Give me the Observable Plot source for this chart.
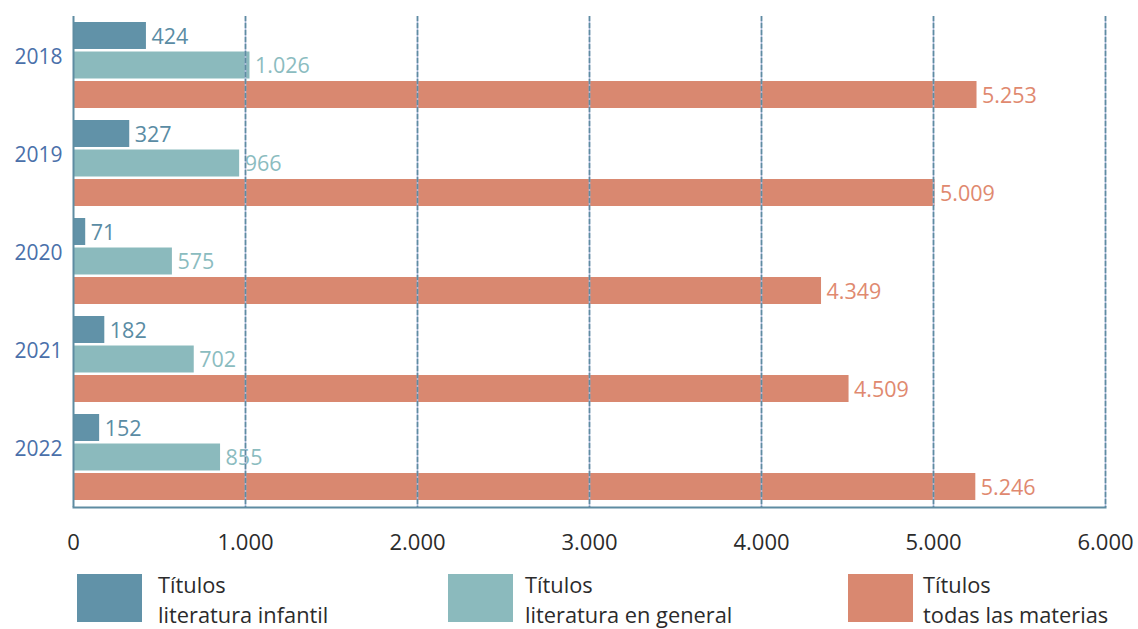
<!DOCTYPE html>
<html>
<head>
<meta charset="utf-8">
<script src="https://cdn.jsdelivr.net/npm/d3@7"></script>
<script src="https://cdn.jsdelivr.net/npm/@observablehq/plot@0.6"></script>
<style>
  html, body { margin: 0; padding: 0; background: #fff; }
  #wrap { position: relative; width: 1138px; height: 629px; font-family: "Open Sans", sans-serif; }
  .leg { position: absolute; top: 574px; }
  .sw { position: absolute; top: 0; width: 65px; height: 48px; }
  .lt { position: absolute; top: -4px; font-size: 21.8px; line-height: 30px; color: #2b2b2b; white-space: nowrap; }
</style>
</head>
<body>
<div id="wrap"><div id="chart"></div><div id="legend"></div></div>
<script>
const years = ["2018", "2019", "2020", "2021", "2022"];
const infantil = [424, 327, 71, 182, 152];
const general = [1026, 966, 575, 702, 855];
const todas = [5253, 5009, 4349, 4509, 5246];
const xTicks = [0, 1000, 2000, 3000, 4000, 5000, 6000];
const seriesNames = ["Títulos\nliteratura infantil", "Títulos\nliteratura en general", "Títulos\ntodas las materias"];
const colors = ["#6192a8", "#8bbabd", "#d98870"];
const labelColors = ["#5a8ca4", "#8bbcbf", "#e0896f"];

const fmt = d3.formatLocale({decimal: ",", thousands: ".", grouping: [3], currency: ["", ""]}).format(",");

const rows = (vals) => years.map((y, i) => ({year: y, value: vals[i]}));
const series = [rows(infantil), rows(general), rows(todas)];

// band geometry (styles)
const W = 1138, H = 560, mT = 16, mB = 53, mL = 73, mR = 33;
const pInner = 0.12, pOuter = 0.06;
const step = (H - mT - mB) / (years.length - pInner + 2 * pOuter);
const bw = step * (1 - pInner);
const barH = 27.4, sub = (bw - barH) / 2;
const insets = [[0, bw - barH], [sub, sub], [bw - barH, 0]];
const dys = [-sub, 0, sub];

const marks = [];
series.forEach((data, k) => {
  marks.push(Plot.barX(data, {x: "value", y: "year", fill: colors[k], insetTop: insets[k][0], insetBottom: insets[k][1]}));
  marks.push(Plot.text(data, {x: "value", y: "year", text: d => fmt(d.value), textAnchor: "start", dx: 5, dy: dys[k] + 1, fill: labelColors[k], fontSize: 21.5}));
});

const chart = Plot.plot({
  width: W, height: H,
  marginTop: mT, marginBottom: mB, marginLeft: mL, marginRight: mR,
  style: {fontFamily: "Open Sans, sans-serif", background: "#fff"},
  x: {domain: [0, 6000], label: null},
  y: {domain: years, paddingInner: pInner, paddingOuter: pOuter, label: null},
  marks: [
    ...marks,
    Plot.ruleX(xTicks.slice(1), {x: d => d, stroke: "#a9b7d8", strokeWidth: 1.6}),
    Plot.ruleX(xTicks.slice(1), {x: d => d, stroke: "#5e8ca2", strokeWidth: 1.6, strokeDasharray: "5,2"}),
    Plot.ruleX([0], {x: d => d, stroke: "#5e8ca2", strokeWidth: 2}),
    Plot.frame({anchor: "bottom", stroke: "#5e8ca2", strokeWidth: 2}),
    Plot.axisX({ticks: xTicks, tickFormat: fmt, tickSize: 0, tickPadding: 27, fontSize: 22, fill: "#2b2b2b", label: null}),
    Plot.axisY({tickSize: 0, tickPadding: 11, fontSize: 21, fill: "#4a70aa", dy: -8, label: null})
  ]
});
document.getElementById("chart").appendChild(chart);

const legX = [[77, 158], [448, 525], [848, 923]];
const leg = document.getElementById("legend");
seriesNames.forEach((name, k) => {
  const item = document.createElement("div");
  item.className = "leg";
  item.style.left = "0px";
  const sw = document.createElement("div");
  sw.className = "sw"; sw.style.left = legX[k][0] + "px"; sw.style.background = colors[k];
  const t = document.createElement("div");
  t.className = "lt"; t.style.left = legX[k][1] + "px";
  t.innerHTML = name.split("\n").join("<br>");
  item.appendChild(sw); item.appendChild(t);
  leg.appendChild(item);
});
</script>
</body>
</html>
